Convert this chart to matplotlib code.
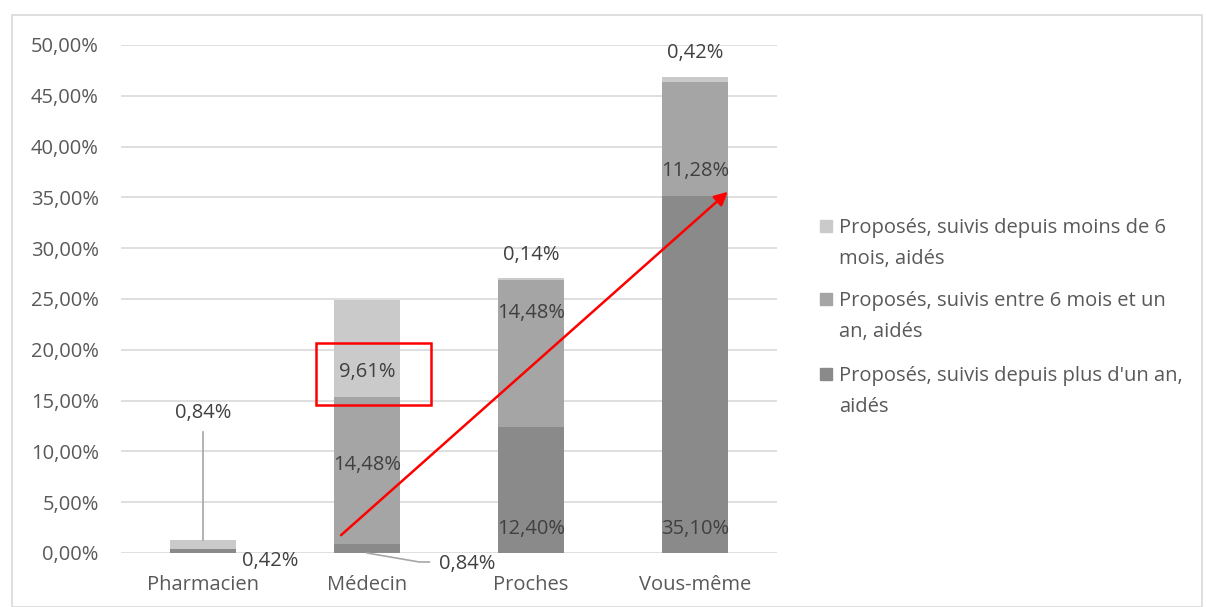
import matplotlib.pyplot as plt
import numpy as np
from matplotlib.patches import Rectangle

plt.rcParams['font.family'] = ['Open Sans', 'DejaVu Sans']

categories = ['Pharmacien', 'Médecin', 'Proches', 'Vous-même']
plus_un_an = [0.42, 0.84, 12.40, 35.10]
six_mois_un_an = [0.0, 14.48, 14.48, 11.28]
moins_six_mois = [0.84, 9.61, 0.14, 0.42]
y_ticks = [0, 5, 10, 15, 20, 25, 30, 35, 40, 45, 50]

labels_legend = ['Proposés, suivis depuis moins de 6\nmois, aidés',
                 'Proposés, suivis entre 6 mois et un\nan, aidés',
                 "Proposés, suivis depuis plus d'un an,\naidés"]

c_dark = '#8a8a8a'
c_mid = '#a5a5a5'
c_light = '#cacaca'
txt = '#404040'
fs = 14.5

fig = plt.figure(figsize=(12.06, 6.07), dpi=100)
ax = fig.add_axes([0.1003, 0.0890, 0.5440, 0.8369])

x = np.arange(len(categories))
w = 0.4
b1 = np.array(plus_un_an)
b2 = np.array(six_mois_un_an)
b3 = np.array(moins_six_mois)
ax.bar(x, b1, w, color=c_dark, zorder=2)
ax.bar(x, b2, w, bottom=b1, color=c_mid, zorder=2)
ax.bar(x, b3, w, bottom=b1 + b2, color=c_light, zorder=2)

ax.set_xlim(-0.5, 3.5)
ax.set_ylim(0, 50)
ax.set_yticks(y_ticks)
ax.set_yticklabels([f'{v:.2f}%'.replace('.', ',') for v in y_ticks])
ax.set_xticks(x)
ax.set_xticklabels(categories)
ax.tick_params(length=0, labelsize=fs, colors='#595959')
ax.tick_params(axis='y', pad=16)
ax.tick_params(axis='x', pad=16)
ax.grid(axis='y', color='#d9d9d9', linewidth=1.2, zorder=0)
for s in ax.spines.values():
    s.set_visible(False)


def fmt(v):
    return f'{v:.2f}%'.replace('.', ',')


# data labels
ax.text(0, 13.8, fmt(b3[0]), ha='center', va='center', fontsize=fs, color=txt)
ax.plot([0, 0], [11.9, b1[0] + b2[0] + b3[0]], color='#a6a6a6', lw=1.2, zorder=3)
ax.text(0.41, -0.75, fmt(b1[0]), ha='center', va='center', fontsize=fs, color=txt)

ax.text(1, 17.8, fmt(b3[1]), ha='center', va='center', fontsize=fs, color=txt, zorder=4)
ax.text(1, 8.7, fmt(b2[1]), ha='center', va='center', fontsize=fs, color=txt, zorder=4)
ax.plot([1, 1.32, 1.38], [0, -0.89, -0.89], color='#a6a6a6', lw=1.2, clip_on=False, zorder=3)
ax.text(1.61, -1.05, fmt(b1[1]), ha='center', va='center', fontsize=fs, color=txt)

ax.text(2, 29.3, fmt(b3[2]), ha='center', va='center', fontsize=fs, color=txt)
ax.text(2, 23.6, fmt(b2[2]), ha='center', va='center', fontsize=fs, color=txt, zorder=4)
ax.text(2, 2.4, fmt(b1[2]), ha='center', va='center', fontsize=fs, color=txt, zorder=4)

ax.text(3, 49.2, fmt(b3[3]), ha='center', va='center', fontsize=fs, color=txt)
ax.text(3, 37.6, fmt(b2[3]), ha='center', va='center', fontsize=fs, color=txt, zorder=4)
ax.text(3, 2.4, fmt(b1[3]), ha='center', va='center', fontsize=fs, color=txt, zorder=4)

# red highlight box and arrow
ax.add_patch(Rectangle((0.69, 14.57), 0.70, 6.1, fill=False, edgecolor='red', lw=1.8, zorder=5))
ax.annotate('', xy=(3.213, 35.73), xytext=(0.829, 1.57),
            arrowprops=dict(arrowstyle='-|>', color='red', lw=1.8, mutation_scale=20), zorder=5)

# legend drawn by hand (Excel style, wrapped labels)
W, H = 1206, 607
legend_rows = [226, 299, 374]
for lab, col, yr in zip(labels_legend, [c_light, c_mid, c_dark], legend_rows):
    fig.add_artist(Rectangle((820 / W, 1 - (yr + 6) / H), 12 / W, 12 / H,
                             transform=fig.transFigure, color=col))
    fig.text(839 / W, 1 - (yr - 8) / H, lab, ha='left', va='top',
             fontsize=fs, color='#595959', linespacing=1.7)

fig.add_artist(Rectangle((0.01, 0.0), 0.987, 0.975, transform=fig.transFigure,
                         fill=False, edgecolor='#d9d9d9', lw=1.2))

fig.savefig('out.png', dpi=100)
